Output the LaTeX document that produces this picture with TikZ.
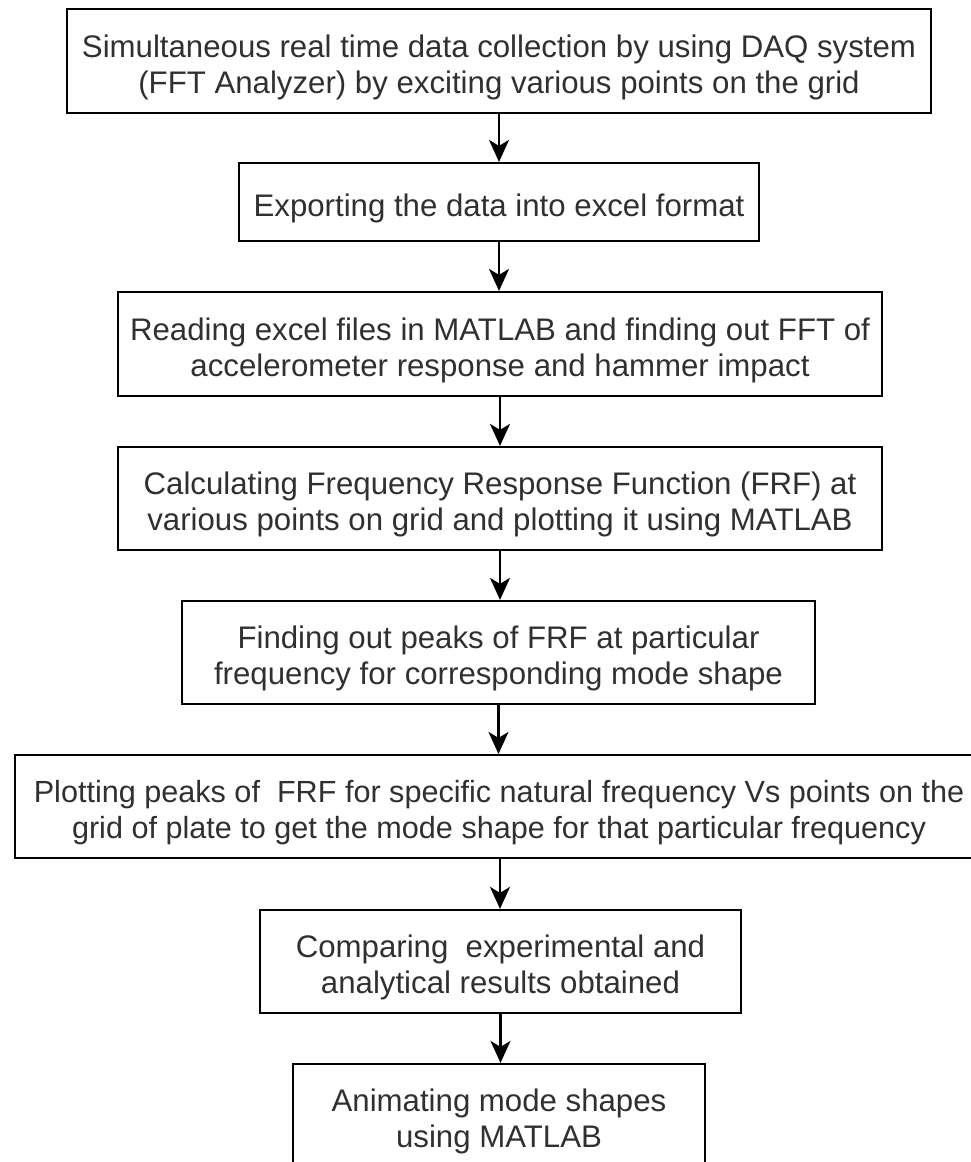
\documentclass[tikz,border=0pt]{standalone}
\usepackage{fontspec}
\setmainfont{Liberation Sans}
\usetikzlibrary{arrows.meta}
\definecolor{txt}{HTML}{303030}
\tikzset{
  box/.style={draw=black, line width=2.2pt, rectangle, inner sep=0pt},
  boxtext/.style={align=center, text=txt, inner sep=0pt, yshift=-6pt,
    font=\fontsize{31.2}{36}\selectfont},
  flow/.style={draw=black, line width=2.2pt, -{Stealth[length=22pt,width=20pt,inset=6pt]}}
}
\begin{document}
\begin{tikzpicture}[x=1pt,y=-1pt]
\useasboundingbox (0,0) rectangle (971,1162);
\node[box, minimum width=864pt, minimum height=104pt,
  label={[boxtext]center:{Simultaneous real time data collection by using DAQ system\\(FFT Analyzer) by exciting various points on the grid}}] (b1) at (499,61) {};
\node[box, minimum width=520pt, minimum height=78pt,
  label={[boxtext]center:{Exporting the data into excel format}}] (b2) at (499,202) {};
\node[box, minimum width=764pt, minimum height=104pt,
  label={[boxtext]center:{Reading excel files in MATLAB and finding out FFT of\\accelerometer response and hammer impact}}] (b3) at (500,344) {};
\node[box, minimum width=764pt, minimum height=103pt,
  label={[boxtext]center:{Calculating Frequency Response Function (FRF) at\\various points on grid and plotting it using MATLAB}}] (b4) at (500,498.5) {};
\node[box, minimum width=633pt, minimum height=103pt,
  label={[boxtext]center:{Finding out peaks of FRF at particular\\frequency for corresponding mode shape}}] (b5) at (498.5,652.5) {};
\node[box, minimum width=970pt, minimum height=103pt,
  label={[boxtext, font=\fontsize{30.6}{36}\selectfont, xshift=-1pt]center:{Plotting peaks of \ FRF for specific natural frequency Vs points on the\\grid of plate to get the mode shape for that particular frequency}}] (b6) at (500,806.5) {};
\node[box, minimum width=481pt, minimum height=103pt,
  label={[boxtext]center:{Comparing \ experimental and\\analytical results obtained}}] (b7) at (500.5,961.5) {};
\node[box, minimum width=412pt, minimum height=103pt,
  label={[boxtext]center:{Animating mode shapes\\using MATLAB}}] (b8) at (499,1115.5) {};
\draw[flow] (b1.south) -- (b1.south |- b2.north);
\draw[flow] (b2.south) -- (b2.south |- b3.north);
\draw[flow] (b3.south) -- (b3.south |- b4.north);
\draw[flow] (b4.south) -- (b4.south |- b5.north);
\draw[flow] (b5.south) -- (b5.south |- b6.north);
\draw[flow] (b6.south) -- (b6.south |- b7.north);
\draw[flow] (b7.south) -- (b7.south |- b8.north);
\end{tikzpicture}
\end{document}
